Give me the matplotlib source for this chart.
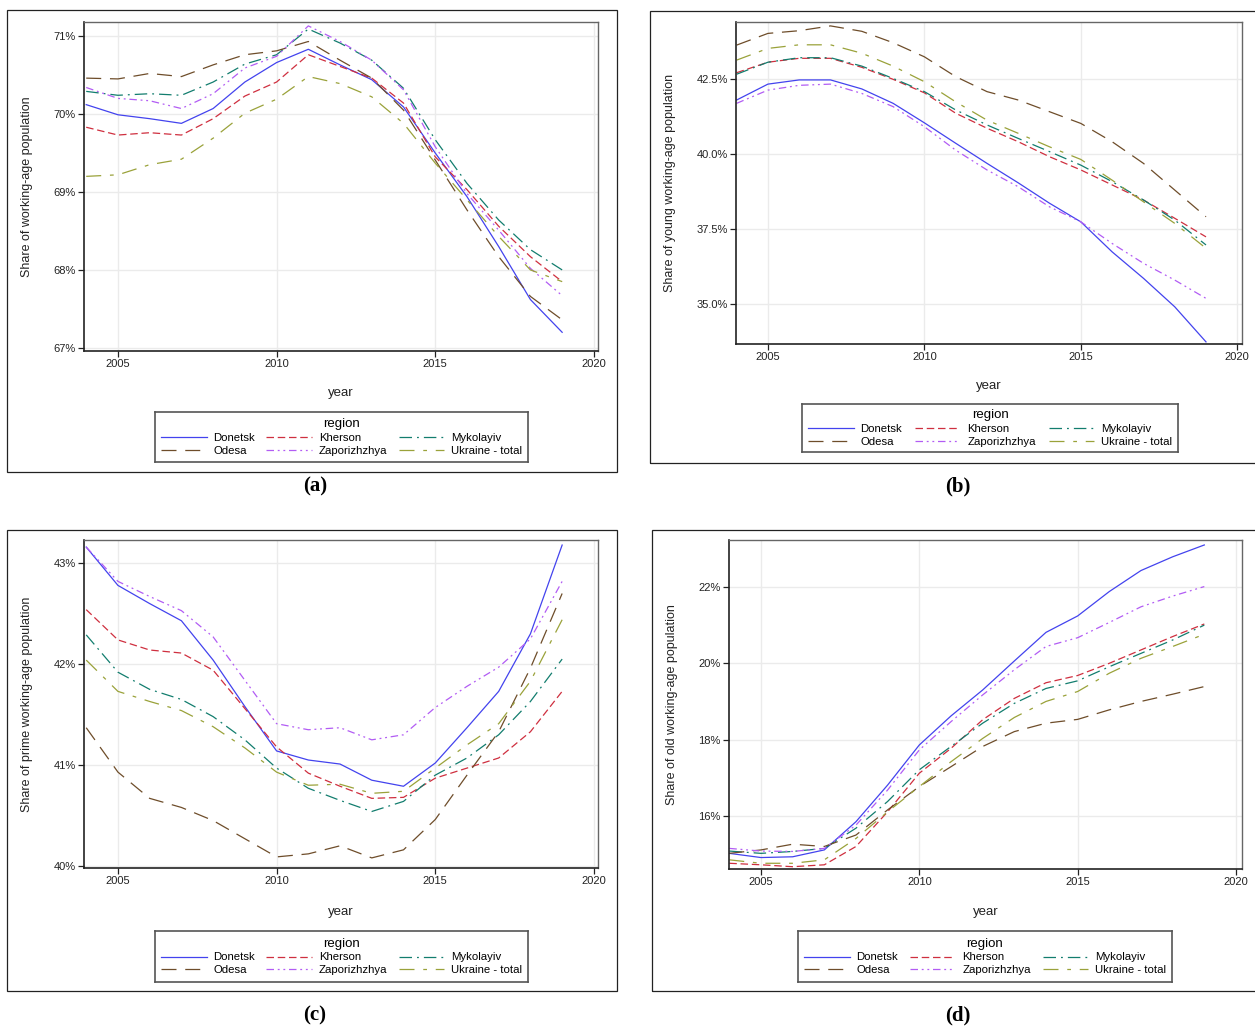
import matplotlib
matplotlib.use("Agg")
import matplotlib.pyplot as plt
from matplotlib.lines import Line2D
from matplotlib.patches import Rectangle
from matplotlib.ticker import FuncFormatter

plt.rcParams['font.family'] = ['Liberation Sans', 'DejaVu Sans']

years = list(range(2004, 2020))
regions = ["Donetsk", "Kherson", "Mykolayiv", "Odesa", "Zaporizhzhya", "Ukraine - total"]

# (a) share of working-age population, %
total_donetsk = [70.12, 69.99, 69.94, 69.88, 70.07, 70.41, 70.66, 70.83, 70.63, 70.44, 70.09, 69.50, 68.94, 68.30, 67.62, 67.20]
total_kherson = [69.83, 69.73, 69.76, 69.73, 69.94, 70.23, 70.41, 70.76, 70.61, 70.46, 70.14, 69.45, 69.03, 68.56, 68.17, 67.85]
total_mykolayiv = [70.29, 70.24, 70.26, 70.24, 70.41, 70.64, 70.76, 71.09, 70.91, 70.69, 70.33, 69.67, 69.11, 68.64, 68.26, 68.00]
total_odesa = [70.46, 70.45, 70.52, 70.48, 70.63, 70.76, 70.81, 70.93, 70.69, 70.46, 70.05, 69.41, 68.77, 68.17, 67.66, 67.36]
total_zapor = [70.34, 70.20, 70.17, 70.07, 70.26, 70.59, 70.74, 71.13, 70.93, 70.69, 70.31, 69.58, 68.98, 68.51, 68.02, 67.67]
total_ukraine = [69.20, 69.22, 69.35, 69.42, 69.69, 70.01, 70.19, 70.48, 70.39, 70.22, 69.88, 69.37, 68.90, 68.43, 68.00, 67.85]

# (b) share of young working-age population, %
young_donetsk = [41.80, 42.33, 42.47, 42.47, 42.17, 41.69, 41.04, 40.36, 39.69, 39.04, 38.36, 37.74, 36.74, 35.86, 34.91, 33.74]
young_kherson = [42.71, 43.06, 43.19, 43.19, 42.89, 42.49, 42.04, 41.36, 40.86, 40.41, 39.91, 39.47, 38.97, 38.47, 37.86, 37.24]
young_mykolayiv = [42.66, 43.06, 43.21, 43.21, 42.93, 42.52, 42.08, 41.47, 40.97, 40.52, 40.08, 39.63, 39.08, 38.47, 37.80, 36.97]
young_odesa = [43.63, 44.02, 44.11, 44.27, 44.09, 43.71, 43.24, 42.58, 42.08, 41.80, 41.41, 41.02, 40.41, 39.69, 38.80, 37.91]
young_zapor = [41.69, 42.13, 42.29, 42.33, 42.02, 41.58, 40.91, 40.13, 39.47, 38.91, 38.24, 37.74, 37.02, 36.36, 35.80, 35.19]
young_ukraine = [43.13, 43.52, 43.64, 43.64, 43.36, 42.93, 42.41, 41.74, 41.13, 40.69, 40.24, 39.82, 39.13, 38.41, 37.69, 36.86]

# (c) share of prime working-age population, %
prime_donetsk = [43.16, 42.78, 42.60, 42.43, 42.04, 41.58, 41.14, 41.05, 41.01, 40.85, 40.79, 41.02, 41.37, 41.73, 42.30, 43.18]
prime_kherson = [42.54, 42.24, 42.14, 42.11, 41.94, 41.56, 41.18, 40.92, 40.79, 40.67, 40.68, 40.87, 40.97, 41.07, 41.33, 41.73]
prime_mykolayiv = [42.29, 41.92, 41.75, 41.65, 41.48, 41.25, 40.97, 40.77, 40.65, 40.54, 40.64, 40.90, 41.07, 41.30, 41.63, 42.05]
prime_odesa = [41.37, 40.93, 40.67, 40.58, 40.45, 40.27, 40.09, 40.12, 40.20, 40.08, 40.16, 40.46, 40.90, 41.33, 41.96, 42.70]
prime_zapor = [43.16, 42.82, 42.67, 42.53, 42.27, 41.84, 41.41, 41.35, 41.37, 41.25, 41.30, 41.57, 41.78, 41.97, 42.25, 42.82]
prime_ukraine = [42.04, 41.73, 41.63, 41.54, 41.38, 41.17, 40.93, 40.80, 40.81, 40.72, 40.74, 40.97, 41.20, 41.41, 41.83, 42.44]

# (d) share of old working-age population, %
old_donetsk = [15.02, 14.91, 14.93, 15.11, 15.85, 16.81, 17.86, 18.62, 19.30, 20.06, 20.81, 21.24, 21.88, 22.43, 22.79, 23.10]
old_kherson = [14.76, 14.72, 14.67, 14.72, 15.20, 16.11, 17.12, 17.77, 18.52, 19.08, 19.49, 19.68, 20.00, 20.35, 20.70, 21.03]
old_mykolayiv = [15.08, 15.02, 15.07, 15.15, 15.68, 16.38, 17.21, 17.82, 18.43, 18.95, 19.34, 19.54, 19.91, 20.26, 20.61, 21.00]
old_odesa = [15.02, 15.11, 15.26, 15.20, 15.50, 16.16, 16.77, 17.29, 17.82, 18.21, 18.43, 18.53, 18.78, 19.00, 19.19, 19.39]
old_zapor = [15.15, 15.08, 15.07, 15.15, 15.76, 16.68, 17.73, 18.47, 19.17, 19.83, 20.44, 20.67, 21.07, 21.48, 21.76, 22.01]
old_ukraine = [14.85, 14.76, 14.76, 14.85, 15.41, 16.11, 16.77, 17.42, 18.03, 18.58, 19.00, 19.26, 19.74, 20.13, 20.44, 20.76]

colors = ['#4343ee', '#cf2f3f', '#127d6e', '#6e4d2a', '#b25cf4', '#9aa23a']
styles = ['-', (0, (6, 3)), (0, (10, 4, 1.5, 4)), (0, (12, 7)),
          (0, (6, 3, 1.5, 3, 1.5, 3)), (0, (12, 7, 3, 7))]

W, H = 1255, 1030
fig = plt.figure(figsize=(W / 100, H / 100), dpi=100)


def px(l, t, r, b):
    return [l / W, 1 - b / H, (r - l) / W, (b - t) / H]


panels = [
    dict(series=[total_donetsk, total_kherson, total_mykolayiv, total_odesa, total_zapor, total_ukraine],
         ax=(84, 22, 598, 351), ylim=(66.96, 71.18), yt=[67, 68, 69, 70, 71], fmt='{:.0f}%',
         xlim=(2003.93, 2020.13), ylabel='Share of working-age population',
         frame=(7, 10, 617, 472), leg=(155, 412, 528, 462), xl_y=393, yl_x=27,
         tag='a', tag_xy=(315, 486)),
    dict(series=[young_donetsk, young_kherson, young_mykolayiv, young_odesa, young_zapor, young_ukraine],
         ax=(736, 22, 1242, 344), ylim=(33.67, 44.4), yt=[35, 37.5, 40, 42.5], fmt='{:.1f}%',
         xlim=(2003.98, 2020.15), ylabel='Share of young working-age population',
         frame=(650, 11, 1260, 463), leg=(802, 404, 1178, 452), xl_y=386, yl_x=670,
         tag='b', tag_xy=(958, 486)),
    dict(series=[prime_donetsk, prime_kherson, prime_mykolayiv, prime_odesa, prime_zapor, prime_ukraine],
         ax=(84, 540, 598, 868), ylim=(39.98, 43.23), yt=[40, 41, 42, 43], fmt='{:.0f}%',
         xlim=(2003.93, 2020.13), ylabel='Share of prime working-age population',
         frame=(7, 530, 617, 991), leg=(155, 931, 528, 982), xl_y=912, yl_x=27,
         tag='c', tag_xy=(315, 1015)),
    dict(series=[old_donetsk, old_kherson, old_mykolayiv, old_odesa, old_zapor, old_ukraine],
         ax=(729, 540, 1242, 869), ylim=(14.61, 23.23), yt=[16, 18, 20, 22], fmt='{:.0f}%',
         xlim=(2003.99, 2020.19), ylabel='Share of old working-age population',
         frame=(652, 530, 1260, 991), leg=(798, 931, 1172, 982), xl_y=912, yl_x=672,
         tag='d', tag_xy=(958, 1015)),
]

for p in panels:
    l, t, r, b = p['frame']
    fig.add_artist(Rectangle((l / W, 1 - b / H), (r - l) / W, (b - t) / H,
                             transform=fig.transFigure, fill=False,
                             edgecolor='#222222', linewidth=0.9))

    ax = fig.add_axes(px(*p['ax']))
    for vals, c, ls in zip(p['series'], colors, styles):
        ax.plot(years, vals, color=c, linestyle=ls, linewidth=0.9)
    ax.set_xlim(*p['xlim'])
    ax.set_ylim(*p['ylim'])
    ax.set_xticks([2005, 2010, 2015, 2020])
    ax.set_yticks(p['yt'])
    fmt = p['fmt']
    ax.yaxis.set_major_formatter(FuncFormatter(lambda v, pos, f=fmt: f.format(v)))
    ax.grid(True, color='#ebebeb', linewidth=1.0)
    ax.set_axisbelow(True)
    ax.tick_params(labelsize=8, length=4, width=0.9, pad=2, colors='#222222')
    for s in ['left', 'bottom']:
        ax.spines[s].set_color('#222222')
        ax.spines[s].set_linewidth(1.2)
    for s in ['top', 'right']:
        ax.spines[s].set_color('#666666')
        ax.spines[s].set_linewidth(1.0)

    al, at, ar, ab = p['ax']
    fig.text(((al + ar) / 2) / W, 1 - p['xl_y'] / H, 'year', ha='center', va='center',
             fontsize=9.5, color='#222222')
    fig.text(p['yl_x'] / W, 1 - ((at + ab) / 2) / H, p['ylabel'], rotation=90,
             ha='center', va='center', fontsize=9, color='#222222')

    lax = fig.add_axes(px(*p['leg']))
    lax.set_xticks([])
    lax.set_yticks([])
    for s in lax.spines.values():
        s.set_color('#555555')
        s.set_linewidth(1.2)
    handles = [Line2D([], [], color=c, linestyle=ls, linewidth=0.9) for c, ls in zip(colors, styles)]
    order = [0, 3, 1, 4, 2, 5]
    lax.legend([handles[i] for i in order], [regions[i] for i in order], ncol=3,
               loc='center', bbox_to_anchor=(0.01, 0, 0.98, 1), mode='expand', frameon=False,
               title='region', title_fontsize=9.5, fontsize=8.2, handlelength=4.0,
               handletextpad=0.6, columnspacing=1.0, labelspacing=0.25, borderpad=0.15,
               borderaxespad=0.05)

    tx, ty = p['tag_xy']
    fig.text(tx / W, 1 - ty / H, '(' + p['tag'] + ')', ha='center', va='center',
             fontsize=15, fontweight='bold', family=['Liberation Serif', 'DejaVu Serif'])

fig.savefig('out.png', dpi=100)
